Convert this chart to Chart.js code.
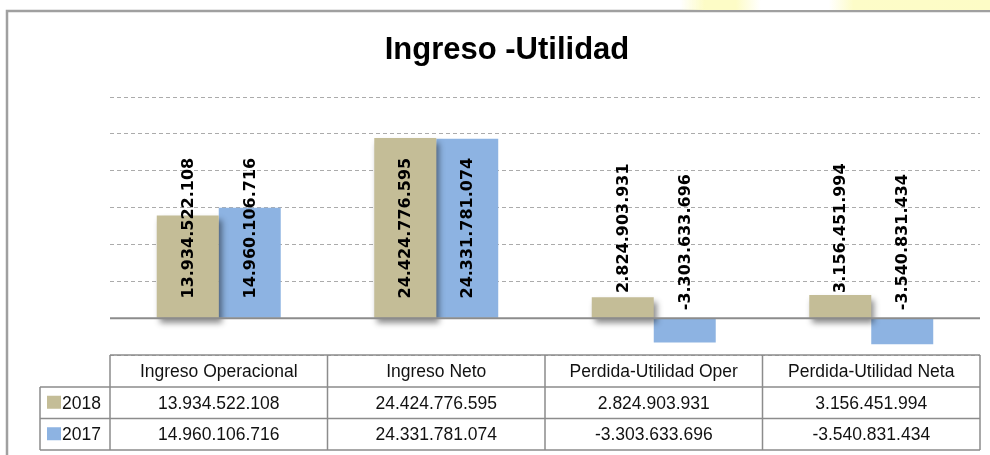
<!DOCTYPE html>
<html>
<head>
<meta charset="utf-8">
<script src="https://cdn.jsdelivr.net/npm/chart.js@4.4.0/dist/chart.umd.min.js"></script>
<style>
    html, body { margin: 0; padding: 0; background: #fff; }
    #wrap { position: relative; width: 990px; height: 455px; }
    #glow {
        position: absolute; top: 0; left: 680px; width: 310px; height: 10px;
        background: linear-gradient(to right, rgba(253,252,200,0) 0%, #fdfcc6 8%, #fdfcc6 18%, #ffffff 26%, #ffffff 48%, #fdfcc8 56%, #fdfcc6 100%);
    }
</style>
</head>
<body>
<div id="wrap">
    <div id="glow"></div>
    <canvas id="chartBar" width="990" height="455"></canvas>
</div>
<script>
const titleText = "Ingreso -Utilidad";
const categories = ["Ingreso Operacional", "Ingreso Neto", "Perdida-Utilidad Oper", "Perdida-Utilidad Neta"];
const seriesNames = ["2018", "2017"];
const values2018 = [13934522108, 24424776595, 2824903931, 3156451994];
const values2017 = [14960106716, 24331781074, -3303633696, -3540831434];
const colors = ["#C4BD97", "#8DB3E2"];

// UTILITIES
function formatNumber(v) {
    const s = Math.abs(v).toString().replace(/\B(?=(\d{3})+(?!\d))/g, ".");
    return (v < 0 ? "-" : "") + s;
}

const frameAndTable = {
    id: "frameAndTable",
    beforeDatasetDraw(chart, args) {
        if (args.index === 0) {
            const ctx = chart.ctx;
            ctx.save();
            ctx.shadowColor = "rgba(0,0,0,0.45)";
            ctx.shadowBlur = 6;
            ctx.shadowOffsetX = 3;
            ctx.shadowOffsetY = 5;
        }
    },
    afterDatasetDraw(chart, args) {
        if (args.index === 0) chart.ctx.restore();
    },
    afterDatasetsDraw(chart) {
        const ctx = chart.ctx;
        const y = chart.scales.y;
        const area = chart.chartArea;
        const base = y.getPixelForValue(0);

        // zero line
        ctx.save();
        ctx.strokeStyle = "#8c8c8c";
        ctx.lineWidth = 2;
        ctx.beginPath();
        ctx.moveTo(area.left, base);
        ctx.lineTo(area.right, base);
        ctx.stroke();
        ctx.restore();

        // rotated value labels
        ctx.save();
        ctx.font = "bold 16px 'DejaVu Sans'";
        ctx.fillStyle = "#000";
        ctx.textAlign = "center";
        ctx.textBaseline = "middle";
        chart.data.datasets.forEach((ds, di) => {
            chart.getDatasetMeta(di).data.forEach((bar, i) => {
                const v = ds.data[i];
                const cy = v >= 0 ? base - 90 : base - 76;
                ctx.save();
                ctx.translate(bar.x, cy);
                ctx.rotate(-Math.PI / 2);
                ctx.fillText(formatNumber(v), 0, 1);
                ctx.restore();
            });
        });
        ctx.restore();
    },
    afterDraw(chart) {
        const ctx = chart.ctx;
        const x = chart.scales.x;
        const area = chart.chartArea;
        const n = categories.length;
        const step = (area.right - area.left) / n;
        const edges = [];
        for (let i = 0; i <= n; i++) edges.push(area.left + step * i);

        // outer frame
        ctx.save();
        ctx.strokeStyle = "#a0a0a0";
        ctx.lineWidth = 2.5;
        ctx.beginPath();
        ctx.moveTo(990, 11);
        ctx.lineTo(7, 11);
        ctx.lineTo(7, 455);
        ctx.stroke();

        // title
        ctx.fillStyle = "#000";
        ctx.font = "bold 31px 'Liberation Sans', sans-serif";
        ctx.textAlign = "center";
        ctx.textBaseline = "middle";
        ctx.fillText(titleText, 507, 50);

        // data table
        const top = area.bottom;
        const rowH = 31.5;
        const rowY = [top, top + 32, top + 32 + rowH, top + 32 + rowH * 2];
        const labelLeft = 40;
        ctx.strokeStyle = "#8c8c8c";
        ctx.lineWidth = 1.5;
        ctx.beginPath();
        ctx.moveTo(edges[0], rowY[0]);
        ctx.lineTo(edges[n], rowY[0]);
        for (let r = 1; r < rowY.length; r++) {
            ctx.moveTo(labelLeft, rowY[r]);
            ctx.lineTo(edges[n], rowY[r]);
        }
        edges.forEach((ex) => {
            ctx.moveTo(ex, rowY[0]);
            ctx.lineTo(ex, rowY[3]);
        });
        ctx.moveTo(labelLeft, rowY[1]);
        ctx.lineTo(labelLeft, rowY[3]);
        ctx.stroke();

        ctx.font = "17.5px 'Liberation Sans', sans-serif";
        ctx.fillStyle = "#111";
        ctx.textAlign = "center";
        ctx.textBaseline = "middle";
        categories.forEach((c, i) => {
            const cx = x.getPixelForValue(i);
            ctx.fillText(c, cx, (rowY[0] + rowY[1]) / 2 + 1);
            ctx.fillText(formatNumber(values2018[i]), cx, (rowY[1] + rowY[2]) / 2 + 1);
            ctx.fillText(formatNumber(values2017[i]), cx, (rowY[2] + rowY[3]) / 2 + 1);
        });
        seriesNames.forEach((name, r) => {
            const cy = (rowY[r + 1] + rowY[r + 2]) / 2;
            ctx.fillStyle = colors[r];
            ctx.fillRect(labelLeft + 7, cy - 7, 14, 13);
            ctx.fillStyle = "#111";
            ctx.textAlign = "left";
            ctx.fillText(name, labelLeft + 22, cy + 1);
        });
        ctx.restore();
    }
};

const dataBarChart = {
    labels: categories,
    datasets: [
        { label: seriesNames[0], data: values2018, backgroundColor: colors[0] },
        { label: seriesNames[1], data: values2017, backgroundColor: colors[1] },
    ],
};

const configBarChart = {
    type: "bar",
    data: dataBarChart,
    options: {
        responsive: false,
        animation: false,
        events: [],
        layout: { padding: { left: 110, right: 10, top: 97, bottom: 100 } },
        datasets: {
            bar: { categoryPercentage: 0.57, barPercentage: 1.0, borderWidth: 0 },
        },
        plugins: {
            legend: { display: false },
            tooltip: { enabled: false },
            title: { display: false },
        },
        scales: {
            x: { display: false },
            y: {
                min: -5000000000,
                max: 30000000000,
                ticks: { display: false, stepSize: 5000000000 },
                grid: { color: "#ababab", lineWidth: 1, drawTicks: false },
                border: { display: false, dash: [4, 3] },
            },
        },
    },
    plugins: [frameAndTable],
};

new Chart(document.getElementById("chartBar"), configBarChart);
</script>
</body>
</html>
